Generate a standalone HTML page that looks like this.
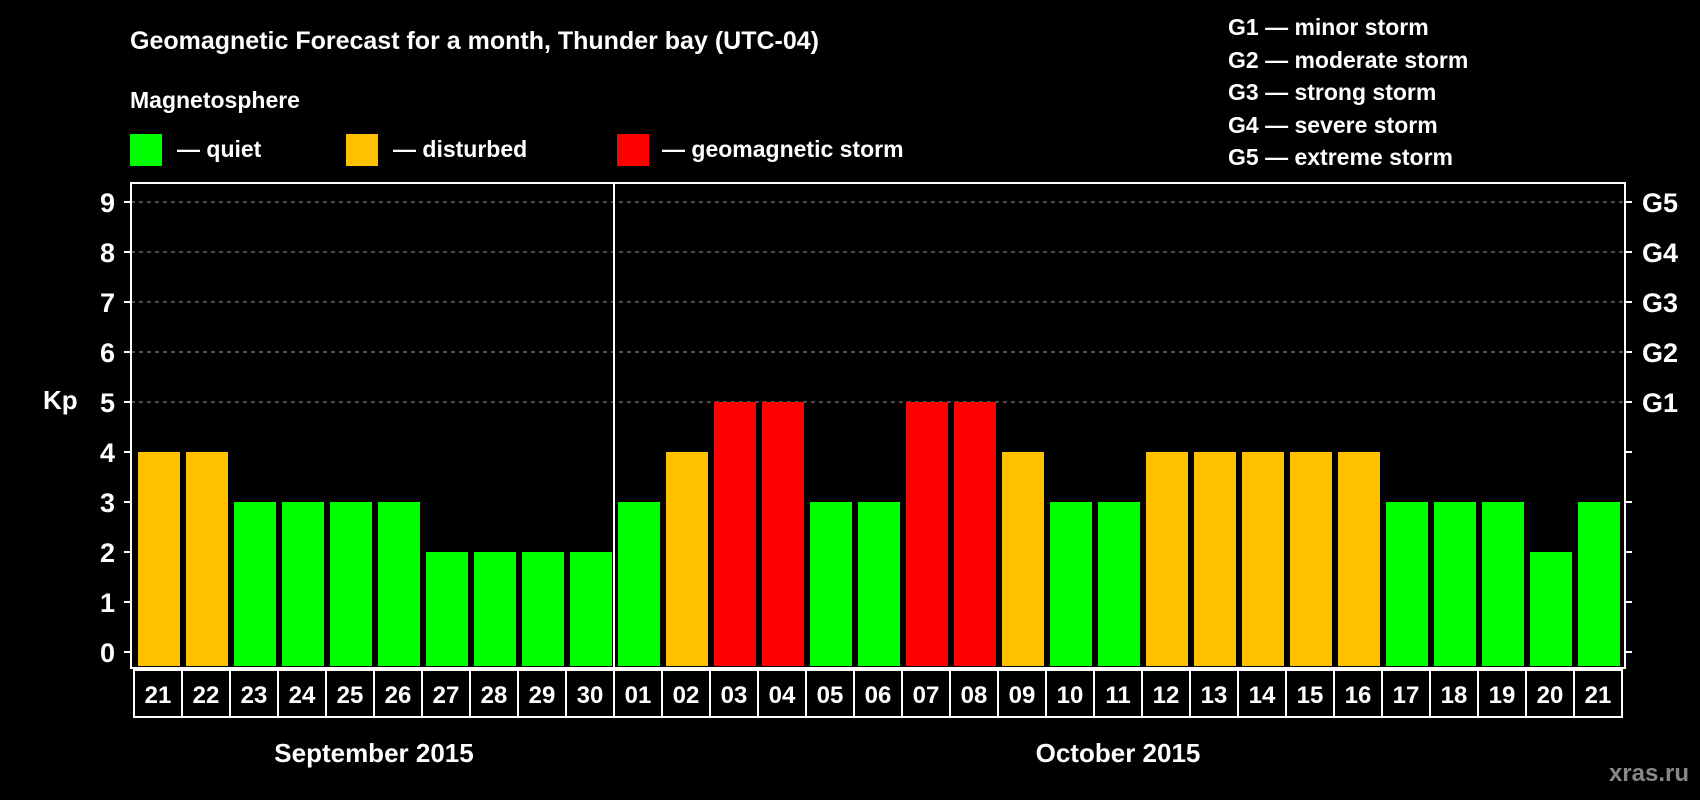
<!DOCTYPE html>
<html><head><meta charset="utf-8"><style>
html,body{margin:0;padding:0;background:#000;}
svg{display:block;font-family:"Liberation Sans",Arial,sans-serif;font-weight:bold;}
</style></head><body>
<svg width="1700" height="800" viewBox="0 0 1700 800">
<text x="130" y="49" fill="#fff" font-size="25">Geomagnetic Forecast for a month, Thunder bay (UTC-04)</text>
<text x="130" y="108" fill="#fff" font-size="23">Magnetosphere</text>
<g>
<rect x="130" y="134" width="32" height="32" fill="#00ff00"/>
<text x="177" y="157" fill="#fff" font-size="23">— quiet</text>
<rect x="346" y="134" width="32" height="32" fill="#ffc000"/>
<text x="393" y="157" fill="#fff" font-size="23">— disturbed</text>
<rect x="617" y="134" width="32" height="32" fill="#ff0000"/>
<text x="662" y="157" fill="#fff" font-size="23">— geomagnetic storm</text>
</g>
<g fill="#fff" font-size="23">
<text x="1228" y="35">G1 — minor storm</text>
<text x="1228" y="68">G2 — moderate storm</text>
<text x="1228" y="100">G3 — strong storm</text>
<text x="1228" y="133">G4 — severe storm</text>
<text x="1228" y="165">G5 — extreme storm</text>
</g>
<text x="43" y="409" fill="#fff" font-size="26">Kp</text>
<text x="374" y="762" fill="#fff" font-size="26" text-anchor="middle">September 2015</text>
<text x="1118" y="762" fill="#fff" font-size="26" text-anchor="middle">October 2015</text>
<text x="1689" y="781" fill="#888" font-size="24" text-anchor="end">xras.ru</text>
<g id="grid"></g><g id="bars"></g><g id="axes"></g>
</svg>
<script>
const days=["21","22","23","24","25","26","27","28","29","30","01","02","03","04","05","06","07","08","09","10","11","12","13","14","15","16","17","18","19","20","21"];
const kp=[4,4,3,3,3,3,2,2,2,2,3,4,5,5,3,3,5,5,4,3,3,4,4,4,4,4,3,3,3,2,3];
const yTicks=[0,1,2,3,4,5,6,7,8,9];
const gLabels=["","","","","","G1","G2","G3","G4","G5"];
const NS="http://www.w3.org/2000/svg";
const L=131,R=1625,T=183,B=668,x0=134,pitch=48;
const y=v=>652-v*50;
const xb=i=>x0+i*pitch;
function mk(tag,a,p){const e=document.createElementNS(NS,tag);for(const k in a)e.setAttribute(k,a[k]);p.appendChild(e);return e;}
const grid=document.getElementById('grid'),bars=document.getElementById('bars'),axes=document.getElementById('axes');
yTicks.forEach(v=>{
 if(v>=5){const g=mk('line',{x1:L,x2:R,y1:y(v),y2:y(v),stroke:'#999','stroke-dasharray':'4,4','stroke-width':1},grid);
 
 }
 const t1=mk('line',{x1:L-7,x2:L,y1:y(v),y2:y(v),stroke:'#fff','stroke-width':2},axes);
 
 
 const t2=mk('line',{x1:R,x2:R+7,y1:y(v),y2:y(v),stroke:'#fff','stroke-width':2},axes);
 
 
 const tl=mk('text',{x:115,y:y(v)+10,fill:'#fff','font-size':27,'text-anchor':'end'},axes);tl.textContent=v;
 
 
 if(gLabels[v]){const gl=mk('text',{x:1642,y:y(v)+10,fill:'#fff','font-size':27},axes);gl.textContent=gLabels[v];
 
 }
});
kp.forEach((v,i)=>{
 const c=v>=5?'#ff0000':v==4?'#ffc000':'#00ff00';
 const r=mk('rect',{x:xb(i)+4,y:y(v),width:42,height:y(0)+14-y(v),fill:c},bars);
 
 
 const bx=mk('rect',{x:xb(i),y:B+2,width:pitch,height:47,fill:'none',stroke:'#fff','stroke-width':2},axes);
 
 
 const t=mk('text',{x:xb(i)+pitch/2,y:B+35,fill:'#fff','font-size':24,'text-anchor':'middle'},axes);t.textContent=days[i];
 
 
});
const fr=mk('rect',{x:L,y:T,width:R-L,height:B-T,fill:'none',stroke:'#fff','stroke-width':2},axes);


const dv=mk('line',{x1:xb(10),x2:xb(10),y1:T,y2:B,stroke:'#fff','stroke-width':2},axes);


</script>
</body></html>
